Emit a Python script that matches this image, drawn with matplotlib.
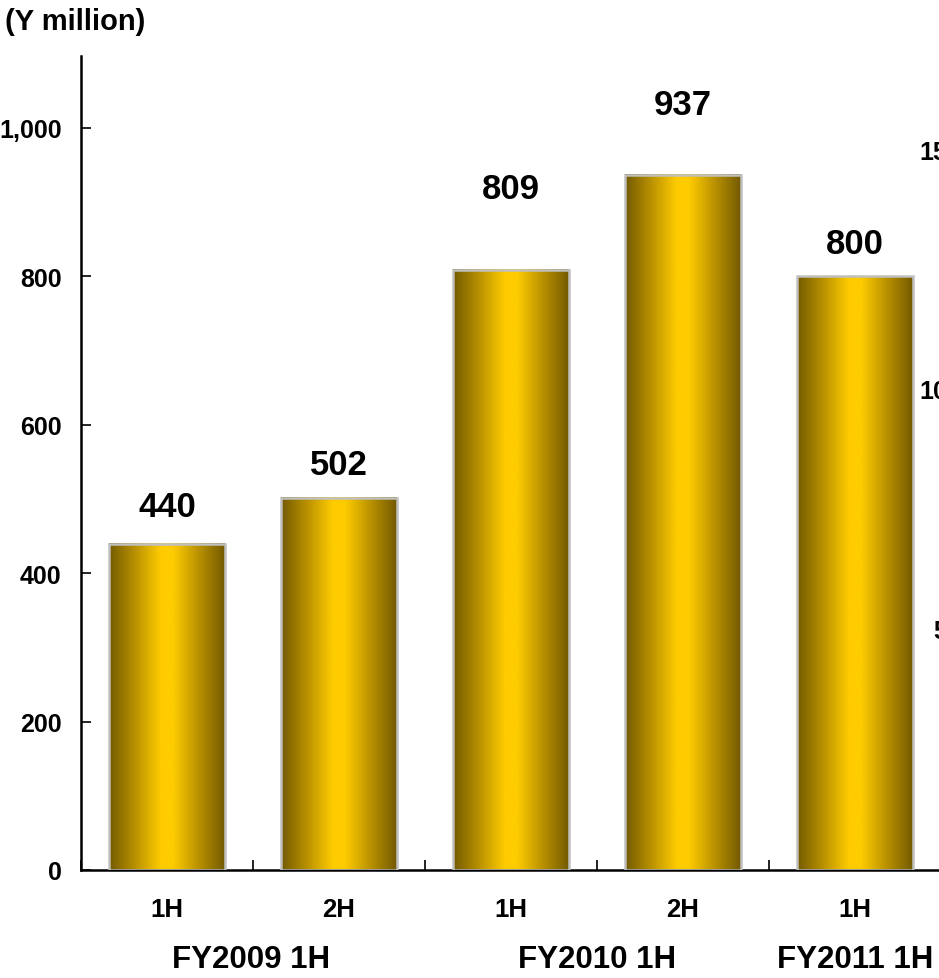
import numpy as np
import matplotlib
matplotlib.use("Agg")
import matplotlib.pyplot as plt
from matplotlib.colors import LinearSegmentedColormap
import matplotlib.transforms as mtransforms

# ---- data ----
half_labels = ["1H", "2H", "1H", "2H", "1H"]
values = [440, 502, 809, 937, 800]
group_labels = ["FY2009 1H", "FY2010 1H", "FY2011 1H"]
y_ticks = [0, 200, 400, 600, 800, 1000]
right_ticks = [5, 10, 15]

# ---- layout ----
label_y = [490, 547, 918, 1032, 844]      # value-label centres (data units)
group_x = [0.49, 2.5, 4.0]                # group-label centres (category units)

plt.rcParams['font.family'] = ['Liberation Sans', 'DejaVu Sans']
plt.rcParams['font.weight'] = 'bold'

fig = plt.figure(figsize=(9.39, 9.79), dpi=100)
W, H = 939, 979
x0, x1 = 81, 941
yb, yt = 871, 57
ax = fig.add_axes([x0 / W, 1 - yb / H, (x1 - x0) / W, (yb - yt) / H])

cmap = LinearSegmentedColormap.from_list(
    "gold", [(0, "#735a00"), (0.22, "#b89000"), (0.45, "#ffcc00"), (0.55, "#ffcc00"),
             (0.78, "#b89000"), (1, "#735a00")])
grad = np.linspace(0, 1, 256).reshape(1, -1)
bw = 0.67
xs = np.arange(len(values))
for x, v in zip(xs, values):
    ax.imshow(grad, cmap=cmap, aspect='auto', extent=(x - bw / 2, x + bw / 2, 0, v),
              zorder=2, interpolation='bicubic')
    ax.add_patch(plt.Rectangle((x - bw / 2, 0), bw, v, fill=False,
                               edgecolor="#c0c0c0", lw=1.8, zorder=3))
ax.set_xlim(-0.5, 4.5)
ax.set_ylim(0, 1097)

for x, v, ly in zip(xs, values, label_y):
    ax.text(x, ly, f"{v:,}", ha='center', va='center', fontsize=25, fontweight='bold')

ax.spines['top'].set_visible(False)
ax.spines['right'].set_visible(False)
ax.spines['left'].set_linewidth(1.8)
ax.spines['bottom'].set_linewidth(1.8)

ax.set_yticks(y_ticks)
ax.set_yticklabels([f"{t:,}" for t in y_ticks], fontsize=18, fontweight='bold')
ax.tick_params(axis='y', direction='in', length=7, width=1.2, pad=14)

ax.set_xticks(np.arange(-0.5, 5.0, 1.0))
ax.set_xticklabels([])
ax.tick_params(axis='x', direction='in', length=7, width=1.2)
for x, lab in zip(xs, half_labels):
    ax.text(x, -0.048, lab, transform=ax.get_xaxis_transform(), ha='center', va='center',
            fontsize=18.5, fontweight='bold')
for gx, lab in zip(group_x, group_labels):
    ax.text(gx, -0.109, lab, transform=ax.get_xaxis_transform(), ha='center', va='center',
            fontsize=22.5, fontweight='bold', clip_on=False)

# secondary (right) axis labels, cut off by the figure edge as in the original
ax2 = ax.twinx()
ax2.set_ylim(0, 17.0)
for s in ax2.spines.values():
    s.set_visible(False)
ax2.set_yticks([])
tr = mtransforms.blended_transform_factory(fig.transFigure, ax2.transData)
for t in right_ticks:
    ax2.text(947 / W, t, str(t), transform=tr, ha='right', va='center',
             fontsize=18, fontweight='bold')

fig.text(5 / W, 1 - 22 / H, "(Y million)", ha='left', va='center', fontsize=21, fontweight='bold')

fig.savefig("out.png", dpi=100)
